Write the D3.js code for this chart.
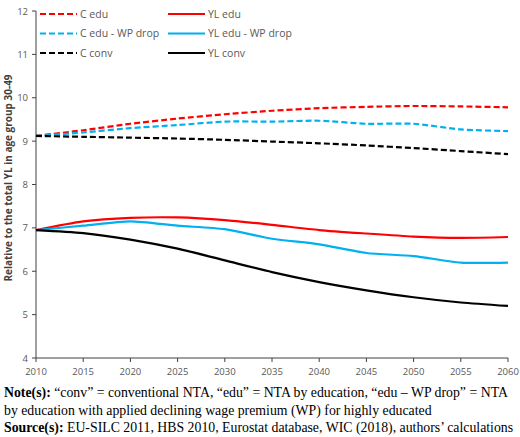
<!DOCTYPE html>
<html lang="en">
<head>
    <script src='https://d3js.org/d3.v7.min.js'></script>
    <style>
        body { margin: 0; background: white; }
        text.tick { font-family: 'Open Sans', sans-serif; font-size: 9.5px; fill: #595959; }
    </style>
</head>
<body>
    <script>
        var width = 520, height = 437;

        // data
        var years = [2010, 2015, 2020, 2025, 2030, 2035, 2040, 2045, 2050, 2055, 2060];
        var cEdu    = [9.12, 9.25, 9.40, 9.52, 9.62, 9.70, 9.76, 9.79, 9.81, 9.80, 9.78];
        var cEduWp  = [9.12, 9.20, 9.30, 9.37, 9.45, 9.45, 9.47, 9.40, 9.40, 9.27, 9.23];
        var cConv   = [9.12, 9.10, 9.08, 9.06, 9.03, 8.99, 8.95, 8.90, 8.84, 8.77, 8.70];
        var ylEdu   = [6.95, 7.15, 7.23, 7.24, 7.18, 7.07, 6.95, 6.87, 6.80, 6.77, 6.79];
        var ylEduWp = [6.95, 7.05, 7.15, 7.05, 6.97, 6.75, 6.62, 6.42, 6.35, 6.20, 6.20];
        var ylConv  = [6.95, 6.88, 6.73, 6.52, 6.25, 5.98, 5.75, 5.56, 5.40, 5.28, 5.20];
        var yTicks = [4, 5, 6, 7, 8, 9, 10, 11, 12];

        var series = [
            {name: 'C edu', values: cEdu, color: '#ff0000', dash: true},
            {name: 'YL edu', values: ylEdu, color: '#ff0000', dash: false},
            {name: 'C edu - WP drop', values: cEduWp, color: '#00b0f0', dash: true},
            {name: 'YL edu - WP drop', values: ylEduWp, color: '#00b0f0', dash: false},
            {name: 'C conv', values: cConv, color: '#000000', dash: true},
            {name: 'YL conv', values: ylConv, color: '#000000', dash: false}
        ];

        var svg = d3.select('body').append('svg').attr('width', width).attr('height', height);

        var x = d3.scaleLinear().domain([2010, 2060]).range([36, 508]);
        var y = d3.scaleLinear().domain([4, 12]).range([358, 11]);

        // axes
        var axisColor = '#404040';
        svg.append('line').attr('x1', x(2010)).attr('x2', x(2060))
            .attr('y1', y(4)).attr('y2', y(4)).attr('stroke', axisColor);
        svg.append('line').attr('x1', x(2010)).attr('x2', x(2010))
            .attr('y1', y(4)).attr('y2', y(12)).attr('stroke', axisColor);

        svg.selectAll('.xt').data(years).join('line')
            .attr('x1', d => x(d)).attr('x2', d => x(d))
            .attr('y1', y(4)).attr('y2', y(4) + 4).attr('stroke', axisColor);
        svg.selectAll('.xl').data(years).join('text')
            .attr('class', 'tick')
            .attr('x', d => x(d)).attr('y', y(4) + 17)
            .attr('text-anchor', 'middle')
            .text(d => d);

        svg.selectAll('.yt').data(yTicks).join('line')
            .attr('x1', x(2010) - 4).attr('x2', x(2010))
            .attr('y1', d => y(d)).attr('y2', d => y(d)).attr('stroke', axisColor);
        svg.selectAll('.yl').data(yTicks).join('text')
            .attr('class', 'tick')
            .attr('x', x(2010) - 8).attr('y', d => y(d) + 3.5)
            .attr('text-anchor', 'end')
            .text(d => d);

        svg.append('text')
            .attr('transform', 'translate(12,' + y(8.15) + ') rotate(-90)')
            .attr('text-anchor', 'middle')
            .style('font-family', "'Open Sans', sans-serif")
            .style('font-size', '10px').style('font-weight', 'bold').style('fill', '#404040')
            .text('Relative to the total YL in age group 30-49');

        // lines
        var line = d3.line()
            .x((d, i) => x(years[i]))
            .y(d => y(d))
            .curve(d3.curveCardinal.tension(0.3));

        svg.selectAll('.series').data(series).join('path')
            .attr('d', d => line(d.values))
            .attr('fill', 'none')
            .attr('stroke', d => d.color)
            .attr('stroke-width', 2.2)
            .attr('stroke-dasharray', d => d.dash ? '6,3' : null);

        // legend
        var leg = svg.selectAll('.leg').data(series).join('g')
            .attr('transform', (d, i) => 'translate(' + (i % 2 ? 168 : 40) + ',' + (14 + Math.floor(i / 2) * 19.5) + ')');
        leg.append('line').attr('x1', 0).attr('x2', 37).attr('y1', 0).attr('y2', 0)
            .attr('stroke', d => d.color).attr('stroke-width', 2.2)
            .attr('stroke-dasharray', d => d.dash ? '6,3' : null);
        leg.append('text').attr('x', 40).attr('y', 3.8)
            .style('font-family', "'Open Sans', sans-serif")
            .style('font-size', '10.5px').style('fill', '#595959')
            .text(d => d.name);

        // notes
        var notes = [
            ['Note(s):', ' \u201cconv\u201d = conventional NTA, \u201cedu\u201d = NTA by education, \u201cedu \u2013 WP drop\u201d = NTA'],
            ['', 'by education with applied declining wage premium (WP) for highly educated'],
            ['Source(s):', ' EU-SILC 2011, HBS 2010, Eurostat database, WIC (2018), authors\u2019 calculations']
        ];
        var nt = svg.selectAll('.note').data(notes).join('text')
            .attr('x', 4).attr('y', (d, i) => 397 + i * 17.5)
            .style('font-family', "'Liberation Serif', serif")
            .style('font-size', '13.8px').style('fill', '#000');
        nt.append('tspan').style('font-weight', 'bold').text(d => d[0]);
        nt.append('tspan').text(d => d[1]);
    </script>
</body>
</html>
